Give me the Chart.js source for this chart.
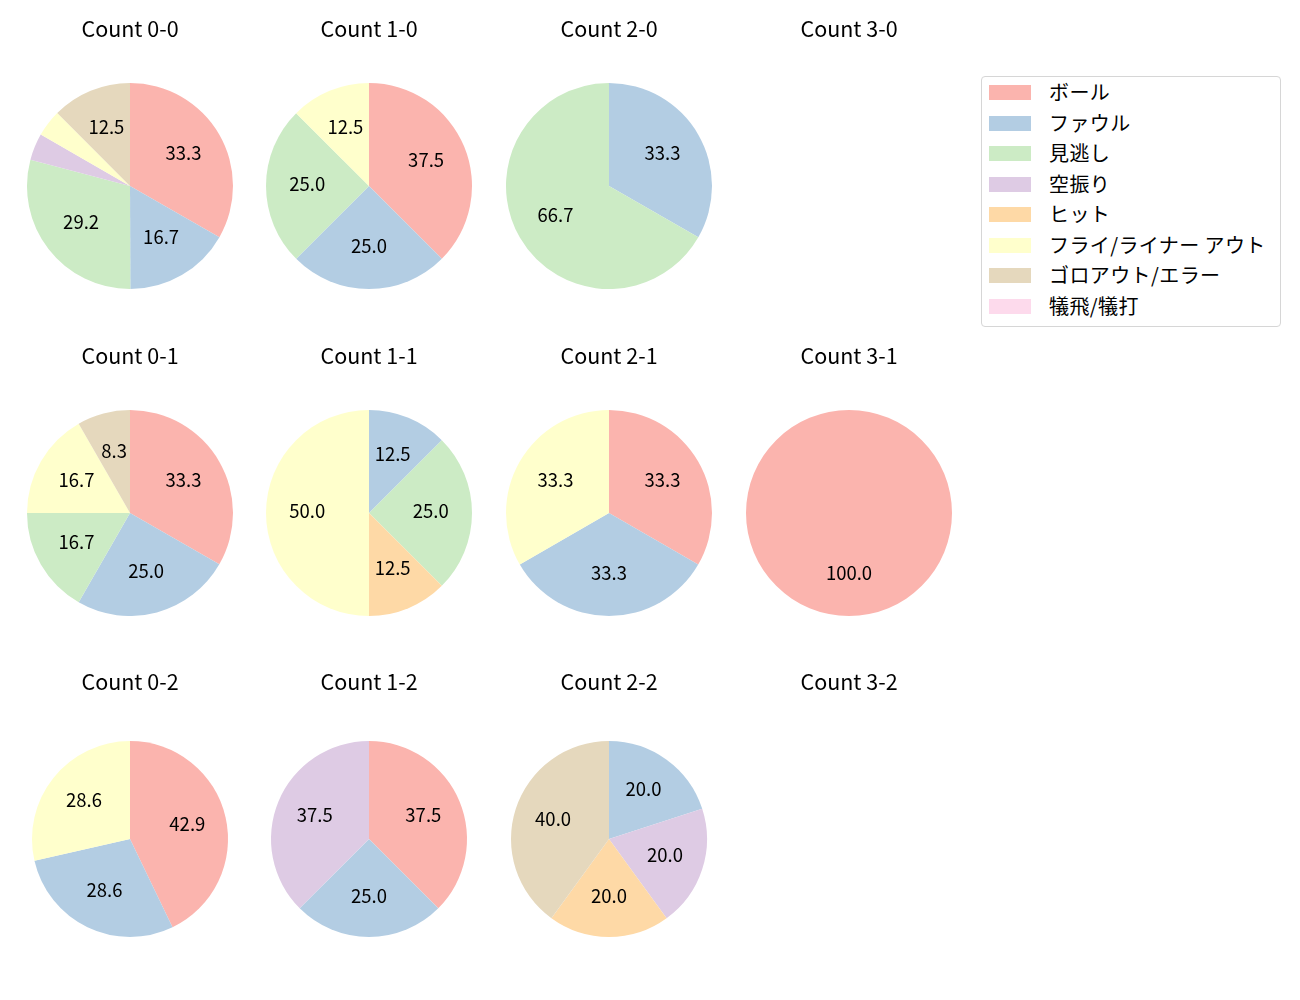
<!DOCTYPE html>
<html>
<head>
<meta charset="utf-8">
<script src="https://cdn.jsdelivr.net/npm/chart.js@4.4.1/dist/chart.umd.min.js"></script>
<style>
  body { margin: 0; background: #fff; font-family: "Noto Sans CJK JP", "Noto Sans", sans-serif; }
  #wrap { position: relative; width: 1300px; height: 1000px; }
  #wrap canvas { position: absolute; }
  #legend {
    position: absolute; left: 981px; top: 76px; width: 300px; height: 251px;
    border: 1px solid #d6d6d6; border-radius: 4px; box-sizing: border-box;
  }
  .item { position: absolute; left: 0; height: 20px; width: 100%; }
  .item .patch { position: absolute; left: 7px; top: 2px; width: 42px; height: 15px; }
  .item .txt { position: absolute; left: 67px; top: -4px; font-size: 20px; letter-spacing: 0.4px; color: #000; white-space: nowrap; line-height: 26px; }
</style>
</head>
<body>
<div id="wrap">
  <div id="legend"></div>
</div>
<script>
// 打席結果の区分
const outcomes = ['ボール', 'ファウル', '見逃し', '空振り', 'ヒット', 'フライ/ライナー アウト', 'ゴロアウト/エラー', '犠飛/犠打'];
const colors = ['#fbb4ae', '#b3cde3', '#ccebc5', '#decbe4', '#fed9a6', '#ffffcc', '#e5d8bd', '#fddaec'];

// カウント別の割合(%)
const count0_0 = [33.3, 16.7, 29.2, 4.2, 0, 4.2, 12.5, 0];
const count1_0 = [37.5, 25.0, 25.0, 0, 0, 12.5, 0, 0];
const count2_0 = [0, 33.3, 66.7, 0, 0, 0, 0, 0];
const count3_0 = [0, 0, 0, 0, 0, 0, 0, 0];
const count0_1 = [33.3, 25.0, 16.7, 0, 0, 16.7, 8.3, 0];
const count1_1 = [0, 12.5, 25.0, 0, 12.5, 50.0, 0, 0];
const count2_1 = [33.3, 33.3, 0, 0, 0, 33.3, 0, 0];
const count3_1 = [100.0, 0, 0, 0, 0, 0, 0, 0];
const count0_2 = [42.9, 28.6, 0, 0, 0, 28.6, 0, 0];
const count1_2 = [37.5, 25.0, 0, 37.5, 0, 0, 0, 0];
const count2_2 = [0, 20.0, 0, 20.0, 20.0, 0, 40.0, 0];
const count3_2 = [0, 0, 0, 0, 0, 0, 0, 0];

const countTitles = [
    ['Count 0-0', 'Count 1-0', 'Count 2-0', 'Count 3-0'],
    ['Count 0-1', 'Count 1-1', 'Count 2-1', 'Count 3-1'],
    ['Count 0-2', 'Count 1-2', 'Count 2-2', 'Count 3-2']
];
const countData = [
    [count0_0, count1_0, count2_0, count3_0],
    [count0_1, count1_1, count2_1, count3_1],
    [count0_2, count1_2, count2_2, count3_2]
];

const FONT = '"Noto Sans CJK JP", "Noto Sans", sans-serif';
const colLeft = [10, 249, 489, 729];
const rowTop = [0, 327, 653];
const rowRadius = [103, 103, 98];

// 割合ラベル (matplotlib の autopct 風, 中心から 0.6r)
const pctLabels = {
    id: 'pctLabels',
    afterDatasetsDraw(chart) {
        const ctx = chart.ctx;
        const meta = chart.getDatasetMeta(0);
        const values = chart.data.datasets[0].data;
        const total = values.reduce((a, b) => a + b, 0);
        if (total <= 0) return;
        ctx.save();
        ctx.font = '18.5px ' + FONT;
        ctx.fillStyle = '#000';
        ctx.textAlign = 'center';
        ctx.textBaseline = 'middle';
        meta.data.forEach((arc, i) => {
            const pct = values[i] / total * 100;
            if (pct < 5) return;
            const p = arc.getProps(['x', 'y', 'startAngle', 'endAngle', 'outerRadius'], true);
            const mid = (p.startAngle + p.endAngle) / 2;
            const r = p.outerRadius * 0.6;
            ctx.fillText(pct.toFixed(1), p.x + Math.cos(mid) * r, p.y + Math.sin(mid) * r - 2);
        });
        ctx.restore();
    }
};

const wrap = document.getElementById('wrap');

countTitles.forEach((row, ri) => {
    row.forEach((title, ci) => {
        const canvas = document.createElement('canvas');
        canvas.width = 240;
        canvas.height = 289;
        canvas.style.left = colLeft[ci] + 'px';
        canvas.style.top = rowTop[ri] + 'px';
        canvas.style.width = '240px';
        canvas.style.height = '289px';
        wrap.appendChild(canvas);

        new Chart(canvas.getContext('2d'), {
            type: 'pie',
            data: {
                labels: outcomes,
                datasets: [{
                    data: countData[ri][ci],
                    backgroundColor: colors,
                    borderWidth: 0,
                    hoverOffset: 0,
                    radius: rowRadius[ri]
                }]
            },
            options: {
                responsive: false,
                animation: false,
                events: [],
                layout: { padding: 0 },
                plugins: {
                    legend: { display: false },
                    tooltip: { enabled: false },
                    title: {
                        display: true,
                        text: title,
                        color: '#000',
                        font: { family: FONT, size: 21.5, weight: 'normal' },
                        padding: { top: 15.5, bottom: 41.7 }
                    }
                }
            },
            plugins: [pctLabels]
        });
    });
});

// 凡例
const legendDiv = document.getElementById('legend');
outcomes.forEach((name, i) => {
    const item = document.createElement('div');
    item.className = 'item';
    item.style.top = (6 + i * 30.5) + 'px';
    item.innerHTML = `<span class="patch" style="background:${colors[i]}"></span><span class="txt">${name}</span>`;
    legendDiv.appendChild(item);
});
</script>
</body>
</html>
